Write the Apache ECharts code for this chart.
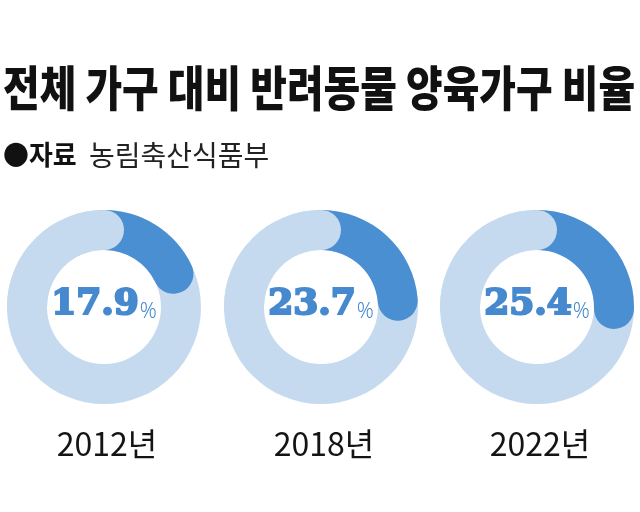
<!DOCTYPE html>
<html>
<head>
<meta charset="utf-8">
<script src="https://cdn.jsdelivr.net/npm/echarts@6/dist/echarts.min.js"></script>
<style>
html,body{margin:0;padding:0;background:#fff;}
#chart{width:640px;height:512px;}
</style>
</head>
<body>
<div id="chart"></div>
<script>
// ---- data ----
var titleText = '전체 가구 대비 반려동물 양육가구 비율';
var sourceLabel = '●자료';
var sourceText = '농림축산식품부';
var years = ['2012년', '2018년', '2022년'];
var shares = [17.9, 23.7, 25.4];

// ---- style ----
var DARK = '#4a8fd1';
var LIGHT = '#c6daef';
var TEXT_BLUE = '#4689cf';
var centersX = [104, 321, 537];
var centerY = 307;
var R = 97, W = 40;

var series = [];
var graphics = [];

shares.forEach(function (v, i) {
  var c = [centersX[i], centerY];
  series.push({
    type: 'gauge',
    center: c,
    radius: R,
    startAngle: 90,
    endAngle: -270,
    min: 0,
    max: 100,
    clockwise: true,
    axisLine: { show: true, roundCap: false, lineStyle: { width: W, color: [[1, LIGHT]] } },
    progress: { show: true, width: W, roundCap: true, overlap: true, itemStyle: { color: DARK } },
    pointer: { show: false },
    anchor: { show: false },
    axisTick: { show: false },
    splitLine: { show: false },
    axisLabel: { show: false },
    title: { show: false },
    detail: {
      show: true,
      offsetCenter: [0, -4],
      valueAnimation: false,
      formatter: function (val) { return '{v|' + val + '}{p|%}'; },
      rich: {
        v: {
          fontFamily: 'DejaVu Serif', fontWeight: 'bold', fontSize: 36,
          color: TEXT_BLUE, textBorderColor: TEXT_BLUE, textBorderWidth: 2.2,
          verticalAlign: 'bottom', lineHeight: 40
        },
        p: {
          fontFamily: 'Noto Sans', fontWeight: 300, fontSize: 21,
          color: TEXT_BLUE, verticalAlign: 'bottom', lineHeight: 36, padding: [0, 0, 0, 1]
        }
      }
    },
    data: [{ value: v }],
    z: 2
  });
  // cover arc: rounds the light ring into the start of the dark arc at 12 o'clock
  series.push({
    type: 'gauge',
    center: c,
    radius: R,
    startAngle: 180,
    endAngle: 90,
    min: 0,
    max: 1,
    axisLine: { show: false },
    progress: { show: true, width: W, roundCap: true, overlap: true, itemStyle: { color: LIGHT } },
    pointer: { show: false },
    anchor: { show: false },
    axisTick: { show: false },
    splitLine: { show: false },
    axisLabel: { show: false },
    title: { show: false },
    detail: { show: false },
    data: [{ value: 1 }],
    z: 3
  });
  graphics.push({
    type: 'text',
    x: centersX[i] + 3,
    y: 444,
    scaleX: 1.0,
    style: {
      text: years[i],
      font: '32px "Noto Sans CJK KR", "Noto Sans"',
      fill: '#141414',
      textAlign: 'center',
      textVerticalAlign: 'middle'
    }
  });
});

graphics.push({
  type: 'text', x: 3, y: 88, scaleX: 0.83,
  style: {
    text: titleText,
    font: '900 48px "Noto Sans CJK KR"',
    fill: '#111',
    textAlign: 'left',
    textVerticalAlign: 'middle'
  }
});
graphics.push({
  type: 'text', x: 3, y: 155, scaleX: 0.96,
  style: {
    text: sourceLabel,
    font: 'bold 27px "Noto Sans CJK KR"',
    fill: '#111',
    textAlign: 'left',
    textVerticalAlign: 'middle'
  }
});
graphics.push({
  type: 'text', x: 89, y: 155, scaleX: 1.0,
  style: {
    text: sourceText,
    font: '28px "Noto Sans CJK KR"',
    fill: '#222',
    textAlign: 'left',
    textVerticalAlign: 'middle'
  }
});

var chart = echarts.init(document.getElementById('chart'), null, { renderer: 'canvas' });
chart.setOption({
  animation: false,
  backgroundColor: '#fff',
  series: series,
  graphic: graphics
});
</script>
</body>
</html>
